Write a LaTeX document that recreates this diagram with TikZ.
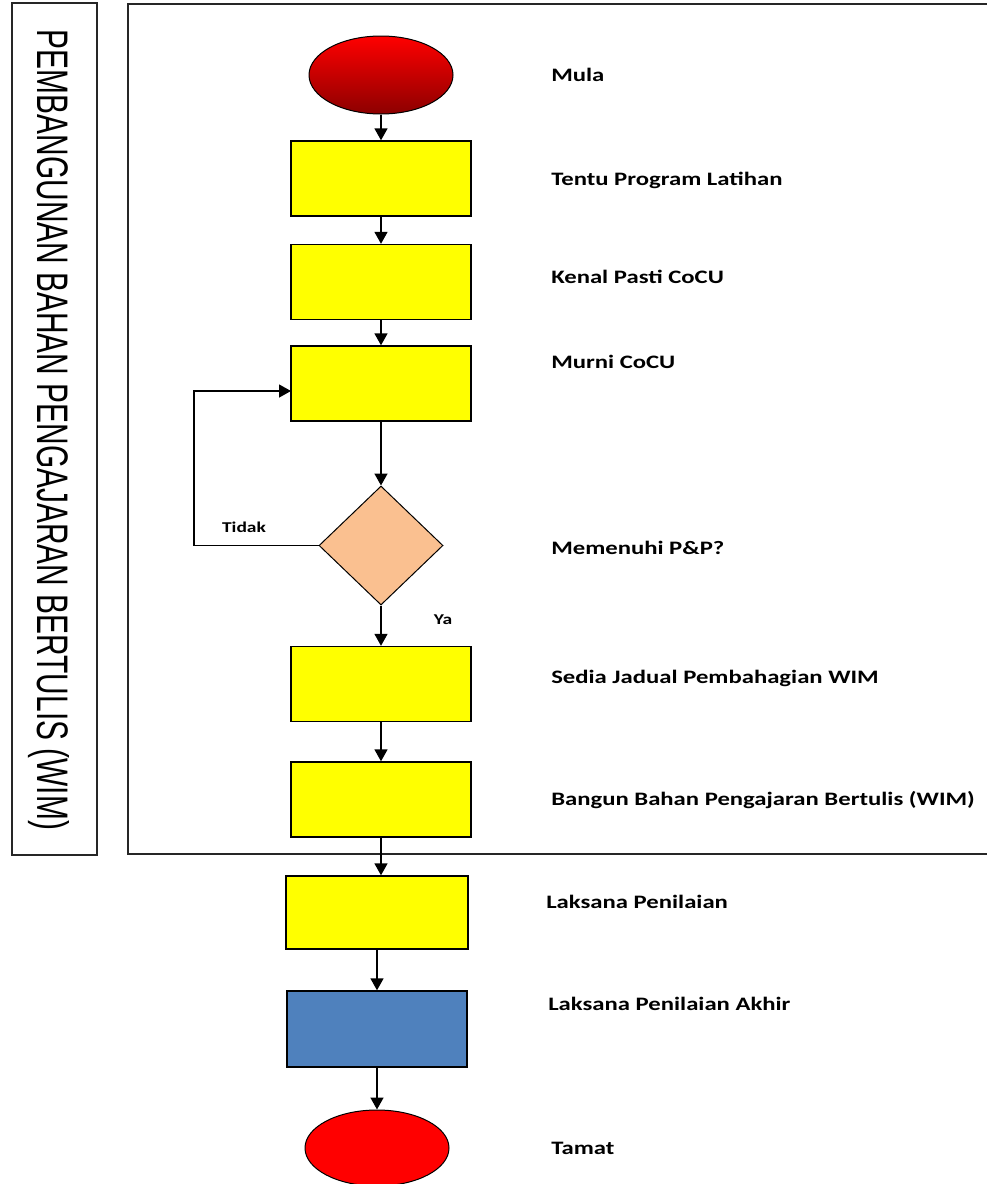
\documentclass[tikz,border=0pt]{standalone}
\usepackage{fontspec}
\setmainfont{Carlito}
\newfontfamily\narrowfont{Liberation Sans}
\usetikzlibrary{arrows.meta,shapes.geometric}
\definecolor{boxyellow}{HTML}{FFFF00}
\definecolor{boxblue}{HTML}{4F81BD}
\definecolor{diafill}{HTML}{FAC090}
\tikzset{
  procbox/.style={draw=black,line width=1.4pt,fill=boxyellow,minimum width=180pt,minimum height=75pt,inner sep=0pt},
  termnode/.style={ellipse,draw=black,line width=1pt,minimum width=144pt,minimum height=78pt,inner sep=0pt},
  lbl/.style={anchor=west,font=\bfseries\fontsize{19}{22}\selectfont,inner sep=0pt,xscale=1.3},
  small/.style={font=\bfseries\fontsize{15}{18}\selectfont,inner sep=0pt,xscale=1.3},
  flow/.style={line width=1.6pt,-{Triangle[width=13pt,length=12pt]}},
  frame/.style={line width=1.4pt,draw=black!85}
}
\begin{document}
\begin{tikzpicture}[x=1pt,y=-1pt]
\useasboundingbox (0,0) rectangle (987,1184);
% frames
\draw[frame] (12,3) rectangle (97,855);
\draw[frame] (990,4) -- (128,4) -- (128,854) -- (990,854);
\node[rotate=-90,inner sep=0pt] (title) at (49,430) {\resizebox{800pt}{32pt}{\narrowfont PEMBANGUNAN BAHAN PENGAJARAN BERTULIS (WIM)}};
% nodes
\node[termnode,top color=red,bottom color=red!55!black] (mula) at (381,75) {};
\node[procbox] (b1) at (381,178.5) {};
\node[procbox] (b2) at (381,282) {};
\node[procbox] (b3) at (381,383.5) {};
\node[diamond,draw=black,line width=1pt,fill=diafill,minimum width=124pt,minimum height=119pt,inner sep=0pt,aspect=1.04] (d) at (381,545.5) {};
\node[procbox] (b4) at (381,684) {};
\node[procbox] (b5) at (381,799.5) {};
\node[procbox,minimum width=182pt,minimum height=73pt] (b6) at (377,912.5) {};
\node[procbox,fill=boxblue,minimum width=180pt,minimum height=76pt] (b7) at (377,1029) {};
\node[termnode,fill=red,minimum height=76pt] (tamat) at (377,1148) {};
% labels
\node[lbl] (l0) at (551,75) {Mula};
\node[lbl] (l1) at (551,180) {Tentu Program Latihan};
\node[lbl] (l2) at (551,277) {Kenal Pasti CoCU};
\node[lbl] (l3) at (551,362) {Murni CoCU};
\node[lbl] (l4) at (551,548) {Memenuhi P\&P?};
\node[lbl] (l5) at (551,678) {Sedia Jadual Pembahagian WIM};
\node[lbl] (l6) at (551,800) {Bangun Bahan Pengajaran Bertulis (WIM)};
\node[lbl] (l7) at (546,902) {Laksana Penilaian};
\node[lbl] (l8) at (548,1004) {Laksana Penilaian Akhir};
\node[lbl] (l9) at (551,1148) {Tamat};
\node[small] (tidak) at (244,527) {Tidak};
\node[small] (ya) at (443,620) {Ya};
% connectors
\draw[flow] (mula.south) -- (b1.north);
\draw[flow] (b1.south) -- (b2.north);
\draw[flow] (b2.south) -- (b3.north);
\draw[flow] (b3.south) -- (d.north);
\draw[flow] (d.south) -- (b4.north);
\draw[flow] (b4.south) -- (b5.north);
\draw[flow] (b5.south) -- (b5.south |- b6.north);
\draw[flow] (b6.south) -- (b7.north);
\draw[flow] (b7.south) -- (tamat.north);
\coordinate (lp) at (194,0);
\coordinate (b3in) at (291,391);
\draw[flow,line width=1.3pt] (d.west) -- (d.west -| lp) -- (lp |- b3in) -- (b3in);
\end{tikzpicture}
\end{document}
